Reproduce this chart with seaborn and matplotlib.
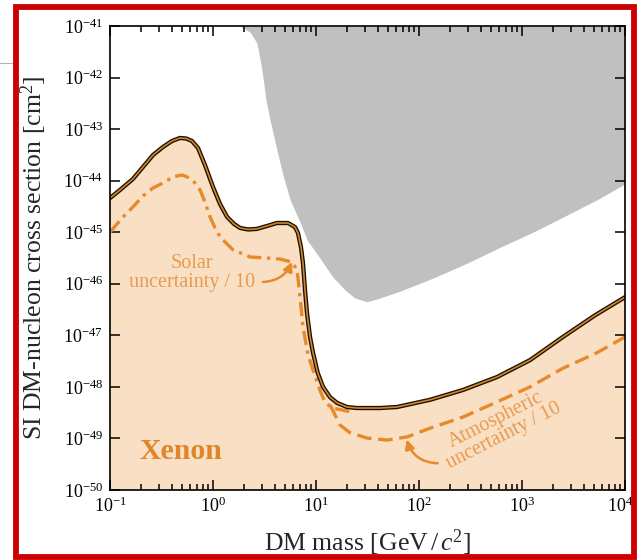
import numpy as np
import pandas as pd
import matplotlib
matplotlib.use("Agg")
import matplotlib.pyplot as plt
from matplotlib.patches import Rectangle
from matplotlib.ticker import LogLocator, NullLocator, NullFormatter
from matplotlib.transforms import ScaledTranslation
import seaborn as sns

# ---- data -------------------------------------------------------------
# Xenon neutrino floor (discovery limit), mass in GeV/c^2, sigma in cm^2
floor_mass = [0.100, 0.125, 0.167, 0.209, 0.262, 0.327, 0.400, 0.478, 0.547,
              0.625, 0.715, 0.836, 1.00, 1.17, 1.37, 1.60, 1.83, 2.19, 2.67,
              3.34, 4.18, 5.35, 6.25, 6.68, 7.15, 7.48, 7.82, 8.18, 8.75,
              9.35, 10.4, 11.7, 13.7, 16.0, 20.0, 25.0, 31.3, 41.8, 61.1,
              128, 267, 571, 1197, 2500, 5117, 10000]
floor_sigma = [4.61e-45, 6.59e-45, 1.08e-44, 1.84e-44, 3.15e-44, 4.50e-44,
               5.89e-44, 6.73e-44, 6.58e-44, 5.89e-44, 4.31e-44, 2.01e-44,
               7.54e-45, 3.53e-45, 1.98e-45, 1.45e-45, 1.21e-45, 1.13e-45,
               1.16e-45, 1.32e-45, 1.51e-45, 1.51e-45, 1.26e-45, 9.7e-46,
               5.1e-46, 2.5e-46, 7.6e-47, 2.7e-47, 9.3e-48, 4.6e-48,
               1.86e-48, 1.0e-48, 6.3e-49, 4.9e-49, 4.07e-49, 3.89e-49,
               3.89e-49, 3.89e-49, 4.07e-49, 5.62e-49, 8.71e-49, 1.55e-48,
               3.31e-48, 9.33e-48, 2.45e-47, 5.50e-47]

# floor with the solar-neutrino flux uncertainty reduced by a factor 10
solar_mass = [0.100, 0.131, 0.167, 0.209, 0.261, 0.327, 0.409, 0.500, 0.598,
              0.669, 0.748, 0.836, 0.935, 1.046, 1.17, 1.56, 2.29, 3.34, 4.47,
              5.85, 6.55, 7.00, 7.48, 8.36, 9.35, 10.9, 12.2, 14.3, 22.4]
solar_sigma = [1.0e-45, 1.89e-45, 3.09e-45, 5.05e-45, 7.2e-45, 9.02e-45,
               1.18e-44, 1.29e-44, 1.12e-44, 9.02e-45, 6.6e-45, 3.86e-45,
               2.0e-45, 1.21e-45, 8.1e-46, 4.57e-46, 3.31e-46, 3.16e-46,
               3.02e-46, 2.63e-46, 1.86e-46, 5.5e-47, 1.45e-47, 4.2e-48,
               2.13e-48, 8.7e-49, 5.1e-49, 3.9e-49, 3.25e-49]

# floor with the atmospheric-neutrino flux uncertainty reduced by a factor 10
atmo_mass = [13.7, 17.1, 21.4, 31.3, 48.9, 76.4, 128, 267, 571, 1197, 2500,
             5346, 10000]
atmo_sigma = [4.47e-49, 1.82e-49, 1.29e-49, 1.02e-49, 9.3e-50, 1.07e-49,
              1.58e-49, 2.6e-49, 5.1e-49, 1.0e-48, 2.3e-48, 4.6e-48, 9.3e-48]

# current experimental exclusion (lower edge of shaded region)
excl_mass = [1.83, 2.29, 2.67, 2.99, 3.27, 3.58, 4.18, 4.78, 5.60, 7.00,
             8.18, 10.9, 14.6, 19.1, 23.9, 31.3, 41.8, 65.5, 137, 292, 611,
             1279, 2735, 5715, 10000]
excl_sigma = [1e-41, 7.6e-42, 4.68e-42, 1.41e-42, 3.65e-43, 1.51e-43,
              3.9e-44, 1.29e-44, 4.26e-45, 1.58e-45, 7.08e-46, 3.16e-46,
              1.35e-46, 7.6e-47, 5.3e-47, 4.47e-47, 5.3e-47, 7.2e-47,
              1.29e-46, 2.5e-46, 5.1e-46, 1.0e-45, 2.15e-45, 4.57e-45,
              8.7e-45]

x_limits = (1e-1, 1e4)
y_limits = (1e-50, 1e-41)

floor_df = pd.DataFrame({"mass": floor_mass, "sigma": floor_sigma})
solar_df = pd.DataFrame({"mass": solar_mass, "sigma": solar_sigma})
atmo_df = pd.DataFrame({"mass": atmo_mass, "sigma": atmo_sigma})

# ---- style ------------------------------------------------------------
sns.set_style("ticks")
plt.rcParams["font.family"] = ["Liberation Serif", "DejaVu Serif"]
plt.rcParams["mathtext.fontset"] = "custom"
plt.rcParams["mathtext.rm"] = "Liberation Serif"
plt.rcParams["mathtext.it"] = "Liberation Serif:italic"
plt.rcParams["mathtext.bf"] = "Liberation Serif:bold"

orange = "#e8892b"
fill_orange = "#f9e0c5"
text_orange = "#e89a50"

fig = plt.figure(figsize=(6.37, 5.60), dpi=100)
ax = fig.add_axes([110 / 637, 1 - 490 / 560, 515 / 637, 464 / 560])
ax.set_axisbelow(False)

ax.set_xscale("log")
ax.set_yscale("log")
ax.set_xlim(*x_limits)
ax.set_ylim(*y_limits)

# shaded regions
ax.fill_between(floor_df["mass"], y_limits[0], floor_df["sigma"],
                color=fill_orange, lw=0, zorder=1)
ax.fill_between(excl_mass, excl_sigma, y_limits[1],
                color="#c0c0c0", lw=0, zorder=1)

# uncertainty variants
sns.lineplot(data=solar_df, x="mass", y="sigma", ax=ax, estimator=None,
             color=orange, linewidth=2.4,
             linestyle=(0, (4.3, 1.7, 1.0, 1.7)), zorder=3)
sns.lineplot(data=atmo_df, x="mass", y="sigma", ax=ax, estimator=None,
             color=orange, linewidth=2.4,
             linestyle=(0, (4.4, 2.0)), zorder=3)

# neutrino floor: dark outline with orange core
sns.lineplot(data=floor_df, x="mass", y="sigma", ax=ax, estimator=None,
             color="#1a1000", linewidth=3.1, zorder=4)
sns.lineplot(data=floor_df, x="mass", y="sigma", ax=ax, estimator=None,
             color="#d3842f", linewidth=1.2, zorder=5)

# annotations
arrow_style = dict(arrowstyle="-|>,head_length=0.55,head_width=0.28",
                   color=orange, lw=1.8, shrinkA=0, shrinkB=0)
ax.text(0.625, 1.62e-46, "Solar\nuncertainty / 10", color=text_orange,
        fontsize=14.5, ha="center", va="center", linespacing=1.0, zorder=6)
ax.annotate("", xy=(5.85, 2.65e-46), xytext=(3.06, 1.08e-46),
            arrowprops=dict(connectionstyle="arc3,rad=0.3", **arrow_style),
            zorder=6)

ax.text(611, 1.6e-49, "Atmospheric\nuncertainty / 10", color=text_orange,
        fontsize=14.5, ha="center", va="center", linespacing=1.0,
        rotation=27, rotation_mode="anchor", zorder=6)
ax.annotate("", xy=(76, 9.5e-50), xytext=(152, 3.3e-50),
            arrowprops=dict(connectionstyle="arc3,rad=-0.35", **arrow_style),
            zorder=6)

ax.text(0.489, 5.6e-50, "Xenon", color="#e0862a", fontsize=21.5,
        fontweight="bold", ha="center", va="center", zorder=6)

# axes, ticks, labels
ax.xaxis.set_major_locator(LogLocator(base=10, numticks=100))
ax.xaxis.set_minor_locator(LogLocator(base=10, subs=np.arange(2, 10),
                                      numticks=100))
ax.xaxis.set_minor_formatter(NullFormatter())
ax.yaxis.set_major_locator(LogLocator(base=10, numticks=100))
ax.yaxis.set_minor_locator(NullLocator())
ax.tick_params(which="both", direction="in", top=True, right=True,
               colors="black", labelsize=13, width=1.1)
ax.tick_params(which="major", length=7, pad=5)
ax.tick_params(which="minor", length=4.5)
for s in ax.spines.values():
    s.set_linewidth(1.2)
    s.set_color("black")
    s.set_zorder(7)

ax.set_xlabel(r"DM mass [GeV$\,/\,c^2$]", fontsize=18.5)
ax.set_ylabel(r"SI DM-nucleon cross section [cm$^2$]", fontsize=18.5)
ax.xaxis.set_label_coords(0.5, -0.08)
ax.yaxis.set_label_coords(-0.118, 0.5)

fig.canvas.draw()
# keep the rightmost mass label inside the frame
last = [t for t in ax.get_xticklabels() if t.get_position()[0] >= 9e3]
for t in last:
    t.set_transform(t.get_transform()
                    + ScaledTranslation(-5 / 100, 0, fig.dpi_scale_trans))

# framing around the panel
fig.patches.append(Rectangle((15.5 / 637, 1 - 557 / 560), 618 / 637,
                             550 / 560, transform=fig.transFigure,
                             fill=False, edgecolor="#cc0000", linewidth=4.2))
fig.lines.append(plt.Line2D([0, 12 / 637], [1 - 63 / 560, 1 - 63 / 560],
                            transform=fig.transFigure, color="#b0b0b0",
                            lw=0.8))

fig.savefig("out.png", dpi=100)
